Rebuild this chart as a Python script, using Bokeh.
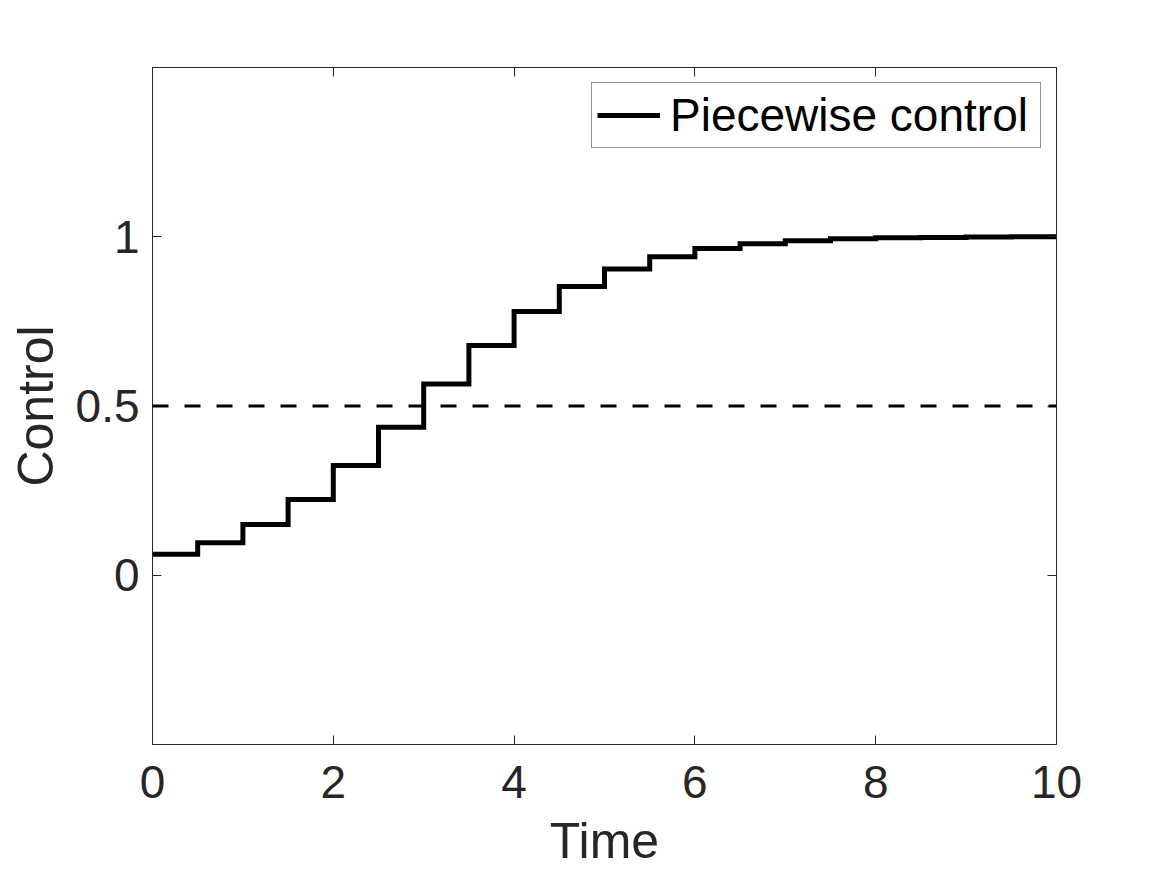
from bokeh.plotting import figure
from bokeh.models import Range1d, LinearAxis, FixedTicker, Span, Legend, LegendItem
from bokeh.embed import file_html
from bokeh.resources import INLINE

# Data
time_edges = [0, 0.5, 1, 1.5, 2, 2.5, 3, 3.5, 4, 4.5, 5, 5.5, 6, 6.5, 7, 7.5, 8, 8.5, 9, 9.5, 10]
control = [0.062, 0.096, 0.150, 0.224, 0.324, 0.437, 0.565, 0.679, 0.779, 0.853,
           0.905, 0.941, 0.965, 0.979, 0.988, 0.994, 0.997, 0.998, 0.999, 1.000]
threshold = 0.5
x_ticks = [0, 2, 4, 6, 8, 10]
y_ticks = [0, 0.5, 1]
legend_label = "Piecewise control"

TXT = "#262626"
FONT = "Liberation Sans"

p = figure(width=1164, height=872, output_backend="svg", toolbar_location=None,
           x_range=Range1d(0, 10), y_range=Range1d(-0.5, 1.5),
           min_border_left=152, min_border_right=108, min_border_top=67, min_border_bottom=128)
p.grid.visible = False
p.outline_line_color = TXT
p.outline_line_width = 1
p.background_fill_color = "white"
p.border_fill_color = "white"

def style_axis(ax, ticks, show_labels):
    ax.ticker = FixedTicker(ticks=ticks)
    ax.major_tick_in = 9
    ax.major_tick_out = 0
    ax.minor_tick_line_color = None
    ax.major_tick_line_color = TXT
    ax.axis_line_color = TXT
    ax.major_label_text_font = FONT
    ax.major_label_text_color = TXT
    ax.major_label_text_font_size = "46px"
    ax.axis_label_text_font = FONT
    ax.axis_label_text_color = TXT
    ax.axis_label_text_font_size = "50px"
    ax.axis_label_text_font_style = "normal"
    if not show_labels:
        ax.major_label_text_font_size = "0px"
        ax.major_label_text_color = None

style_axis(p.xaxis[0], x_ticks, True)
style_axis(p.yaxis[0], y_ticks, True)
p.xaxis[0].axis_label = "Time"
p.yaxis[0].axis_label = "Control"
p.xaxis[0].major_label_standoff = 21
p.yaxis[0].major_label_standoff = 13
p.xaxis[0].axis_label_standoff = 12
p.yaxis[0].axis_label_standoff = 9
p.xaxis[0].major_label_overrides = {0: "0", 2: "2", 4: "4", 6: "6", 8: "8", 10: "10"}
p.yaxis[0].major_label_overrides = {0: "0", 0.5: "0.5", 1: "1"}

top_ax = LinearAxis()
style_axis(top_ax, x_ticks, False)
p.add_layout(top_ax, "above")
right_ax = LinearAxis()
style_axis(right_ax, y_ticks, False)
p.add_layout(right_ax, "right")

p.add_layout(Span(location=threshold, dimension="width", line_color="black",
                  line_width=3, line_dash="16 16"))

ys = control + [control[-1]]
r = p.step(time_edges, ys, mode="after", line_color="black", line_width=5, line_join="miter")

legend = Legend(items=[LegendItem(label=legend_label, renderers=[r])], location="top_right")
legend.label_text_font = FONT
legend.label_text_font_size = "46px"
legend.label_text_color = "black"
legend.glyph_width = 63
legend.glyph_height = 46
legend.label_height = 46
legend.label_width = 365
legend.label_standoff = 10
legend.padding = 5
legend.margin = 15
legend.spacing = 0
legend.border_line_color = TXT
legend.border_line_width = 1
legend.background_fill_alpha = 1.0
p.add_layout(legend)

open("out.html", "w").write(file_html(p, INLINE))
